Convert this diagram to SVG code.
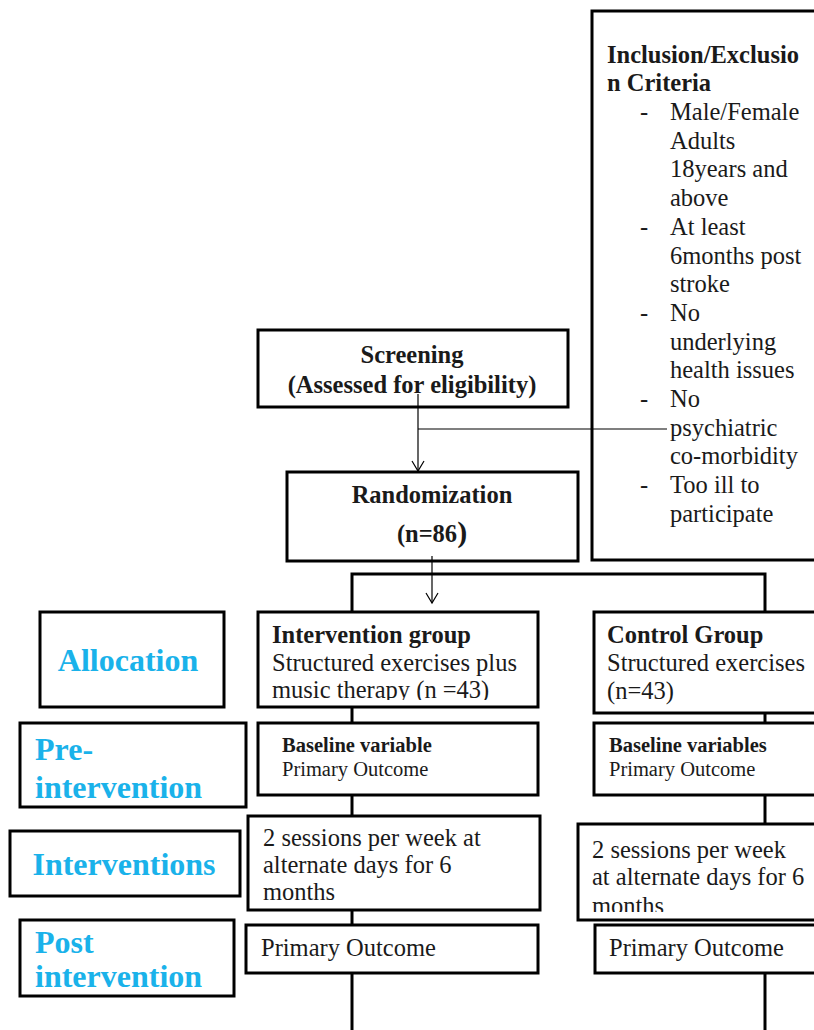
<svg xmlns="http://www.w3.org/2000/svg" width="814" height="1030" viewBox="0 0 814 1030" font-family="'Liberation Serif', Tinos, 'Times New Roman', serif">
<defs>
<style>
.box{fill:#fff;stroke:#000;stroke-width:3}
.t{font-family:'Liberation Serif', Tinos, 'Times New Roman', serif;font-size:24.5px;fill:#1a1a1a}
.b{font-weight:bold}
.s{font-size:20.5px}
.lab{font-family:'Liberation Serif', Tinos, 'Times New Roman', serif;font-size:32px;font-weight:bold;fill:#1ab2ea}
.ln{stroke:#000;stroke-width:3;fill:none}
.thin{stroke:#000;stroke-width:1.2;fill:none}
</style>
<marker id="arr" markerWidth="14" markerHeight="14" refX="11" refY="7" orient="auto" markerUnits="userSpaceOnUse">
<path d="M1,1 L11,7 L1,13" fill="none" stroke="#000" stroke-width="1.2"/>
</marker>
</defs>
<rect width="814" height="1030" fill="#fff"/>

<g id="criteria">
<rect class="box" x="592" y="11" width="240" height="549"/>
<text class="t b" x="607" y="63">Inclusion/Exclusio</text>
<text class="t b" x="607" y="91">n Criteria</text>
<g class="t">
<text x="640" y="120">-</text><text x="670" y="120">Male/Female</text>
<text x="670" y="149">Adults</text>
<text x="670" y="177">18years and</text>
<text x="670" y="206">above</text>
<text x="640" y="235">-</text><text x="670" y="235">At least</text>
<text x="670" y="264">6months post</text>
<text x="670" y="292">stroke</text>
<text x="640" y="321">-</text><text x="670" y="321">No</text>
<text x="670" y="350">underlying</text>
<text x="670" y="378">health issues</text>
<text x="640" y="407">-</text><text x="670" y="407">No</text>
<text x="670" y="436">psychiatric</text>
<text x="670" y="464">co-morbidity</text>
<text x="640" y="493">-</text><text x="670" y="493">Too ill to</text>
<text x="670" y="522">participate</text>
</g>
</g>

<g id="screening">
<rect class="box" x="258" y="330" width="310" height="77"/>
<text class="t b" x="412" y="363" text-anchor="middle" font-size="23.5">Screening</text>
<text class="t b" x="412" y="393" text-anchor="middle" font-size="23.5">(Assessed for eligibility)</text>
</g>

<g id="randomization">
<rect class="box" x="287" y="472" width="291" height="89"/>
<text class="t b" x="432" y="503" text-anchor="middle" font-size="23.5">Randomization</text>
<text class="t b" x="432" y="542" text-anchor="middle" font-size="23.5">(n=86<tspan font-size="30">)</tspan></text>
</g>

<g id="allocation-label">
<rect class="box" x="40" y="612" width="184" height="95"/>
<text class="lab" x="128" y="671" text-anchor="middle" font-size="33">Allocation</text>
</g>

<g id="intervention-group">
<rect class="box" x="258" y="612" width="280" height="95"/>
<text class="t b" x="272" y="643">Intervention group</text>
<text class="t" x="272" y="671">Structured exercises plus</text>
<svg x="258" y="612" width="280" height="88" overflow="hidden"><text class="t" x="14" y="86">music therapy (n =43)</text></svg>
</g>

<g id="control-group">
<rect class="box" x="594" y="612" width="240" height="101"/>
<text class="t b" x="607" y="643">Control Group</text>
<text class="t" x="607" y="671">Structured exercises</text>
<text class="t" x="607" y="699">(n=43)</text>
</g>

<g id="pre-label">
<rect class="box" x="20" y="723" width="226" height="84"/>
<text class="lab" x="35" y="760">Pre-</text>
<text class="lab" x="35" y="798">intervention</text>
</g>

<g id="pre-int">
<rect class="box" x="258" y="723" width="280" height="72"/>
<text class="t b s" x="282" y="752">Baseline variable</text>
<text class="t s" x="282" y="776">Primary Outcome</text>
</g>

<g id="pre-ctl">
<rect class="box" x="594" y="723" width="240" height="72"/>
<text class="t b s" x="609" y="752">Baseline variables</text>
<text class="t s" x="609" y="776">Primary Outcome</text>
</g>

<g id="interventions-label">
<rect class="box" x="10" y="831" width="230" height="65"/>
<text class="lab" x="124" y="875" text-anchor="middle">Interventions</text>
</g>

<g id="int-int">
<rect class="box" x="248" y="816" width="292" height="94"/>
<text class="t" x="263" y="846">2 sessions per week at</text>
<text class="t" x="263" y="873">alternate days for 6</text>
<text class="t" x="263" y="900">months</text>
</g>

<g id="int-ctl">
<rect class="box" x="578" y="824" width="256" height="96"/>
<text class="t" x="592" y="858">2 sessions per week</text>
<text class="t" x="592" y="885">at alternate days for 6</text>
<svg x="578" y="824" width="256" height="88" overflow="hidden"><text class="t" x="14" y="90">months</text></svg>
</g>

<g id="post-label">
<rect class="box" x="20" y="920" width="214" height="76"/>
<text class="lab" x="35" y="953">Post</text>
<text class="lab" x="35" y="987">intervention</text>
</g>

<g id="post-int">
<rect class="box" x="246" y="925" width="292" height="48"/>
<text class="t" x="261" y="956">Primary Outcome</text>
</g>

<g id="post-ctl">
<rect class="box" x="595" y="925" width="239" height="48"/>
<text class="t" x="609" y="956">Primary Outcome</text>
</g>

<g id="connectors">
<line class="thin" x1="418" y1="394" x2="418" y2="471" marker-end="url(#arr)"/>
<line class="thin" x1="418" y1="429" x2="667" y2="429"/>
<line class="thin" x1="432" y1="556" x2="432" y2="603" marker-end="url(#arr)"/>
<polyline class="ln" points="352,612 352,574 765,574 765,612"/>
<line class="ln" x1="352" y1="707" x2="352" y2="723"/>
<line class="ln" x1="765" y1="713" x2="765" y2="723"/>
<line class="ln" x1="352" y1="795" x2="352" y2="816"/>
<line class="ln" x1="765" y1="795" x2="765" y2="824"/>
<line class="ln" x1="352" y1="910" x2="352" y2="925"/>
<line class="ln" x1="352" y1="973" x2="352" y2="1030"/>
<line class="ln" x1="765" y1="973" x2="765" y2="1030"/>
</g>
</svg>
